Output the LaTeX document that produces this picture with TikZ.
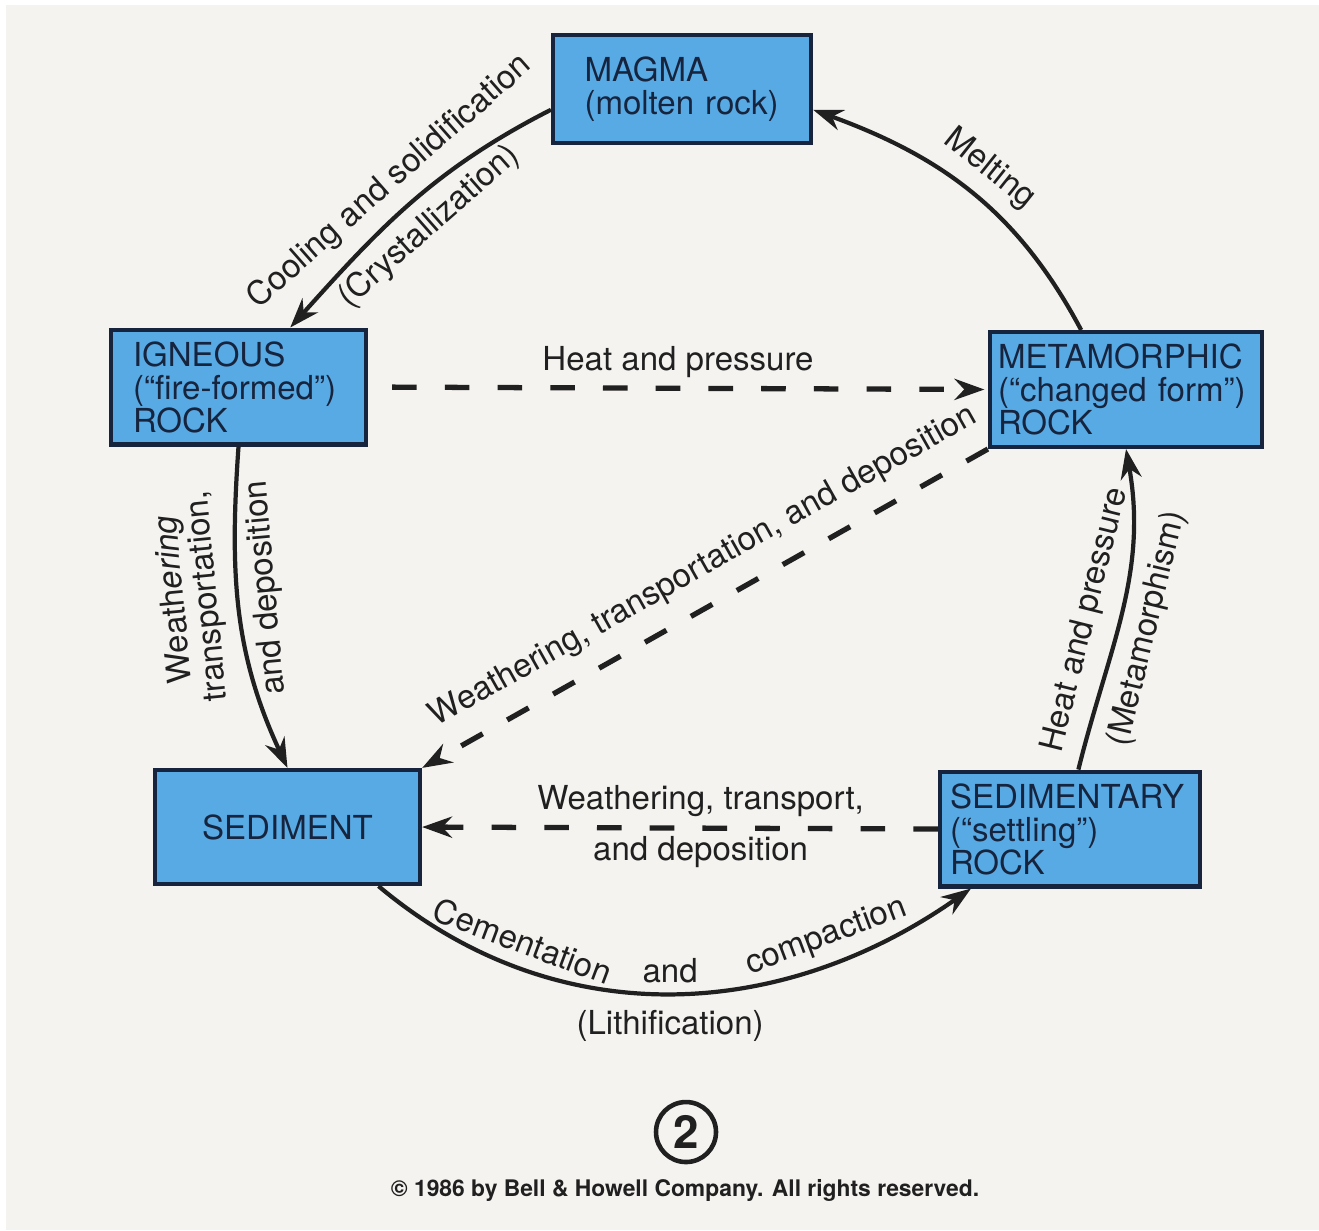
\documentclass[tikz,border=0pt]{standalone}
\usepackage{fontspec}
\setmainfont{TeX Gyre Heros}
\usepackage{tikz}
\usetikzlibrary{arrows.meta,positioning}
\definecolor{rockblue}{RGB}{88,170,228}
\definecolor{boxline}{RGB}{22,36,62}
\definecolor{paper}{RGB}{245,243,240}
\definecolor{ink}{RGB}{32,32,32}
\newcommand{\labelsize}{\fontsize{9.4pt}{9.4pt}\selectfont}

\begin{document}
\begin{tikzpicture}[x=0.1mm, y=0.1mm, font=\labelsize, text=ink,
        rock/.style = {draw=boxline, fill=rockblue, line width=1.2pt, text=boxline, align=left, inner xsep=0pt},
        flow/.style = {draw=ink, line width=1.2pt, >={Stealth[length=8.5pt,width=6pt]}, ->},
        dashflow/.style = {flow, line width=1.5pt, dash pattern=on 7pt off 8pt}]
            \fill[white] (0,0) rectangle (1319,-1230);
            \fill[paper] (6,-5) rectangle (1319,-1230);

            \node [rock, minimum width=2.58cm, minimum height=1.08cm, text width=1.95cm] (magma) at (682,-89) {MAGMA\\(molten rock)};
            \node [rock, minimum width=2.55cm, minimum height=1.08cm, text width=2.11cm] (ign) at (238.5,-387) {IGNEOUS\\(“fire-formed”)\\ROCK};
            \node [rock, minimum width=2.72cm, minimum height=1.05cm, text width=2.56cm] (meta) at (1126,-389.5) {METAMORPHIC\\(“changed form”)\\ROCK};
            \node [rock, minimum width=2.65cm, minimum height=1.14cm, align=center] (sed) at (287.5,-827) {SEDIMENT};
            \node [rock, minimum width=2.60cm, minimum height=1.14cm, text width=2.40cm] (sedy) at (1070,-829) {SEDIMENTARY\\(“settling”)\\ROCK};

            \draw [flow] (magma.189) to[out=207, in=48]
                node [sloped, above] {Cooling and solidification}
                node [sloped, below] {(Crystallization)} (ign.49);
            \draw [flow] (meta.127) to[out=118, in=-20]
                node [sloped, above] {Melting} (magma.-9);
            \draw [flow, <-] (sed.north) to[out=115, in=-94]
                node [pos=0.56, sloped, allow upside down, above, align=center] {Weath\textit{ering}\\transportation,}
                node [pos=0.57, sloped, allow upside down, below] {and deposition} (ign.south);
            \draw [flow] (sedy.82) to[out=76, in=-80]
                node [pos=0.44, sloped, allow upside down, above=1pt] {Heat and pressure}
                node [pos=0.46, sloped, allow upside down, below] {(Metamorphism)} (meta.south);
            \draw [flow] (sed.-33) to[out=-40, in=-145]
                node [pos=0.24, sloped, above] {Cementation}
                node [pos=0.5, above=-1pt] {and}
                node [pos=0.77, sloped, above=-1pt] {compaction}
                node [pos=0.5, below=1pt] {(Lithification)} (sedy.211);

            \draw [dashflow, shorten <=0.24cm, shorten >=1pt] (ign.east) -- node [above=-1pt] {Heat and pressure} (meta.west);
            \draw [dashflow] (meta.south west) -- node [pos=0.47, sloped, above=2pt] {Weathering, transportation, and deposition} (sed.north east);
            \draw [dashflow] (sedy.west) -- node [pos=0.46, above=-0.7pt] {Weathering, transport,}
                node [pos=0.46, below=-1.8pt] {and deposition} (sed.east);

            \node [circle, draw=ink, line width=1.3pt, minimum size=0.6cm, inner sep=0pt, font=\fontsize{13pt}{13pt}\selectfont\bfseries] (fignum) at (686,-1132) {2};
            \node [font=\fontsize{6.5pt}{6.5pt}\selectfont\bfseries] (copyline) at (685,-1190) {\textcopyright{} 1986 by Bell \& Howell Company. All rights reserved.};
\end{tikzpicture}
\end{document}
